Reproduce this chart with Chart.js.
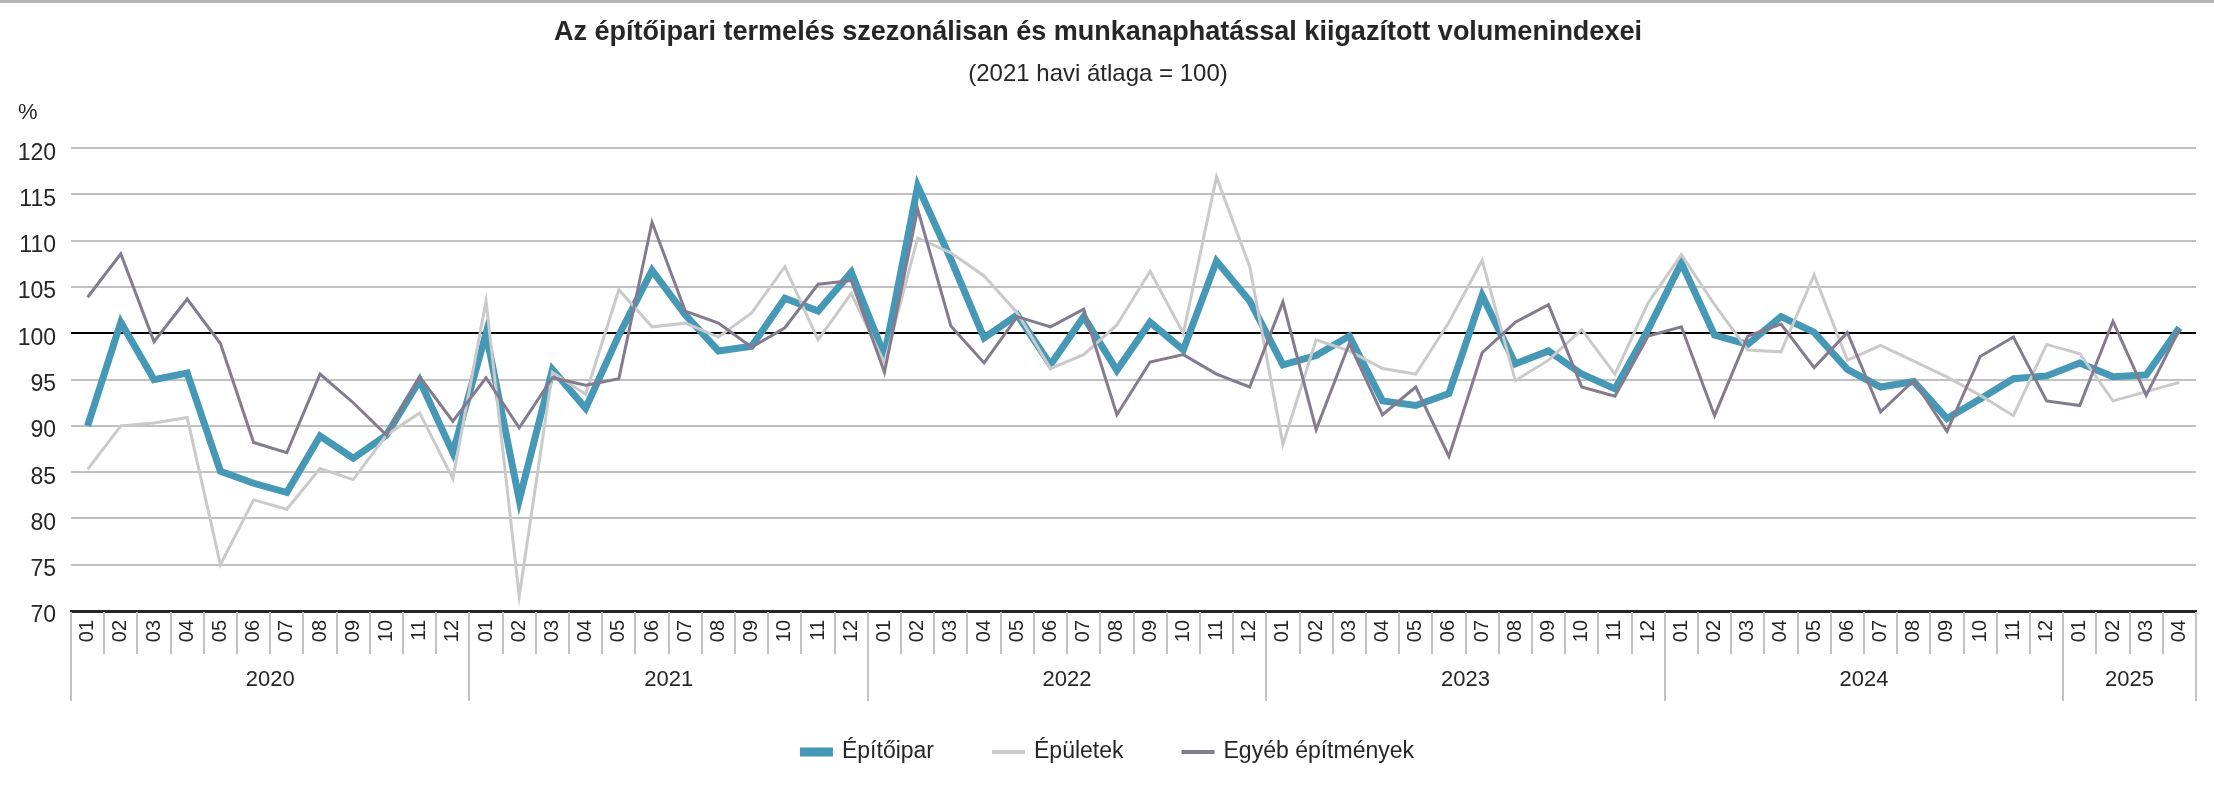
<!DOCTYPE html>
<html>
<head>
<meta charset="utf-8">
<script src="https://cdn.jsdelivr.net/npm/chart.js@4/dist/chart.umd.min.js"></script>
<style>
  html, body { margin: 0; padding: 0; background: #fff; }
  #wrap { width: 2214px; height: 796px; }
</style>
</head>
<body>
<div id="wrap"><canvas id="volChart"></canvas></div>
<script>
// Years and how many months each covers
const years = ['2020', '2021', '2022', '2023', '2024', '2025'];
const monthsInYear = [12, 12, 12, 12, 12, 4];
const monthNames = ['01', '02', '03', '04', '05', '06', '07', '08', '09', '10', '11', '12'];
const yTicks = [70, 75, 80, 85, 90, 95, 100, 105, 110, 115, 120];

// Series values, 2020-01 .. 2025-04
const epitoipar = [
  90.0, 101.2, 95.0, 95.7, 85.1, 83.8, 82.8, 88.9, 86.5, 89.0, 94.9, 87.1,
  100.0, 82.0, 96.1, 91.9, 99.8, 106.8, 102.0, 98.1, 98.6, 103.8, 102.4, 106.6,
  97.6, 115.9, 108.0, 99.5, 102.0, 96.6, 101.8, 96.0, 101.2, 98.2, 107.8, 103.5,
  96.6, 97.6, 99.7, 92.7, 92.2, 93.5, 104.1, 96.7, 98.1, 95.6, 94.0, 100.4,
  107.6, 99.8, 98.8, 101.8, 100.1, 96.1, 94.2, 94.8, 90.8, 92.9, 95.1, 95.4,
  96.8, 95.3, 95.5, 100.6
];
const epuletek = [
  85.3, 90.0, 90.3, 90.9, 75.0, 82.0, 81.0, 85.4, 84.2, 89.0, 91.4, 84.3,
  103.5, 71.6, 95.8, 93.4, 104.7, 100.7, 101.1, 99.6, 102.2, 107.2, 99.3, 104.3,
  96.8, 110.3, 108.7, 106.2, 102.2, 96.2, 97.7, 100.9, 106.7, 100.0, 116.9, 107.2,
  88.0, 99.3, 98.1, 96.2, 95.6, 101.2, 107.9, 94.9, 97.1, 100.4, 95.6, 103.3,
  108.5, 103.1, 98.2, 98.0, 106.3, 97.1, 98.7, 97.0, 95.3, 93.3, 91.1, 98.8,
  97.8, 92.7, 93.7, 94.7
];
const egyeb = [
  103.9, 108.6, 99.1, 103.7, 98.9, 88.2, 87.1, 95.6, 92.5, 89.0, 95.3, 90.5,
  95.2, 89.8, 95.2, 94.4, 95.1, 112.0, 102.4, 101.1, 98.5, 100.6, 105.3, 105.7,
  95.8, 113.4, 100.8, 96.8, 101.8, 100.7, 102.6, 91.2, 96.9, 97.7, 95.6, 94.2,
  103.4, 89.6, 98.9, 91.2, 94.2, 86.7, 97.9, 101.2, 103.1, 94.2, 93.2, 99.7,
  100.7, 91.1, 99.7, 101.0, 96.3, 100.1, 91.5, 94.9, 89.4, 97.5, 99.6, 92.7,
  92.2, 101.3, 93.3, 100.4
];

// month labels built from the year list
const labels = [];
years.forEach(function (y, i) {
    for (let m = 0; m < monthsInYear[i]; m++) labels.push(monthNames[m]);
});

const FONT = "'Liberation Sans', Arial, sans-serif";
const TEXT = '#262626';

// separators, year labels, % sign, legend and top rule
const axisExtras = {
    id: 'axisExtras',
    afterDraw: function (chart) {
        const ctx = chart.ctx;
        const x = chart.scales.x;
        const area = chart.chartArea;
        const n = labels.length;
        const half = (x.getPixelForValue(1) - x.getPixelForValue(0)) / 2;
        const yearStarts = [0];
        monthsInYear.forEach(function (c, i) { yearStarts.push(yearStarts[i] + c); });

        ctx.save();
        // top rule
        ctx.strokeStyle = '#b5b5b5';
        ctx.lineWidth = 3;
        ctx.beginPath();
        ctx.moveTo(0, 1.5);
        ctx.lineTo(chart.width, 1.5);
        ctx.stroke();

        // month / year separators
        ctx.strokeStyle = '#c2c2c2';
        ctx.lineWidth = 2;
        for (let i = 0; i <= n; i++) {
            const px = Math.round(x.getPixelForValue(i) - half);
            const isYear = yearStarts.indexOf(i) >= 0;
            ctx.beginPath();
            ctx.moveTo(px, area.bottom + 1);
            ctx.lineTo(px, area.bottom + (isYear ? 90 : 43));
            ctx.stroke();
        }

        // year labels
        ctx.fillStyle = TEXT;
        ctx.font = '22px ' + FONT;
        ctx.textAlign = 'center';
        ctx.textBaseline = 'middle';
        years.forEach(function (y, i) {
            const a = x.getPixelForValue(yearStarts[i]);
            const b = x.getPixelForValue(yearStarts[i + 1] - 1);
            ctx.fillText(y, (a + b) / 2, area.bottom + 69);
        });

        // unit
        ctx.textAlign = 'left';
        ctx.fillText('%', 18, area.top - 35);

        // legend
        ctx.font = '23px ' + FONT;
        const items = chart.data.datasets;
        const sw = 33, gapText = 9, gapItem = 58;
        let total = 0;
        items.forEach(function (d, i) {
            total += sw + gapText + ctx.measureText(d.label).width + (i ? gapItem : 0);
        });
        let lx = (chart.width - total) / 2;
        const ly = 752;
        items.forEach(function (d, i) {
            if (i) lx += gapItem;
            ctx.strokeStyle = d.borderColor;
            ctx.lineWidth = d.borderWidth + (i === 0 ? 2 : 1);
            ctx.beginPath();
            ctx.moveTo(lx, ly);
            ctx.lineTo(lx + sw, ly);
            ctx.stroke();
            lx += sw + gapText;
            ctx.fillStyle = TEXT;
            ctx.fillText(d.label, lx, ly);
            lx += ctx.measureText(d.label).width;
        });
        ctx.restore();
    }
};

new Chart(document.getElementById('volChart'), {
    type: 'line',
    data: {
        labels: labels,
        datasets: [{
            label: 'Építőipar',
            data: epitoipar,
            borderColor: '#4599b6',
            borderWidth: 7,
            order: 3
        }, {
            label: 'Épületek',
            data: epuletek,
            borderColor: '#cacaca',
            borderWidth: 3,
            order: 2
        }, {
            label: 'Egyéb építmények',
            data: egyeb,
            borderColor: '#857b8e',
            borderWidth: 3,
            order: 1
        }]
    },
    options: {
        responsive: true,
        maintainAspectRatio: false,
        animation: false,
        devicePixelRatio: 1,
        layout: { padding: { left: 0, right: 18, top: 0, bottom: 0 } },
        elements: {
            point: { radius: 0, hoverRadius: 0 },
            line: { tension: 0, borderJoinStyle: 'miter', borderCapStyle: 'butt' }
        },
        plugins: {
            legend: { display: false },
            tooltip: { enabled: false },
            title: {
                display: true,
                text: 'Az építőipari termelés szezonálisan és munkanaphatással kiigazított volumenindexei',
                color: TEXT,
                font: { family: FONT, size: 27, weight: 'bold' },
                padding: { top: 16, bottom: 6 }
            },
            subtitle: {
                display: true,
                text: '(2021 havi átlaga = 100)',
                color: TEXT,
                font: { family: FONT, size: 24 },
                padding: { top: 6, bottom: 59 }
            }
        },
        scales: {
            x: {
                type: 'category',
                offset: true,
                grid: { display: false, drawTicks: false },
                border: { display: true, color: '#262626', width: 3 },
                ticks: {
                    color: TEXT,
                    font: { family: FONT, size: 20 },
                    minRotation: 90,
                    maxRotation: 90,
                    autoSkip: false,
                    padding: 9
                },
                afterFit: function (scale) { scale.height = 185; }
            },
            y: {
                min: 70,
                max: 120,
                afterBuildTicks: function (scale) {
                    scale.ticks = yTicks.map(function (v) { return { value: v }; });
                },
                grid: {
                    drawTicks: false,
                    lineWidth: 2,
                    color: function (c) {
                        return c.tick && c.tick.value === 100 ? '#000000' : '#c0c0c0';
                    }
                },
                border: { display: false },
                ticks: {
                    color: TEXT,
                    font: { family: FONT, size: 23 },
                    padding: 15,
                    labelOffset: 5
                },
                afterFit: function (scale) { scale.width = 71; }
            }
        }
    },
    plugins: [axisExtras]
});
</script>
</body>
</html>
